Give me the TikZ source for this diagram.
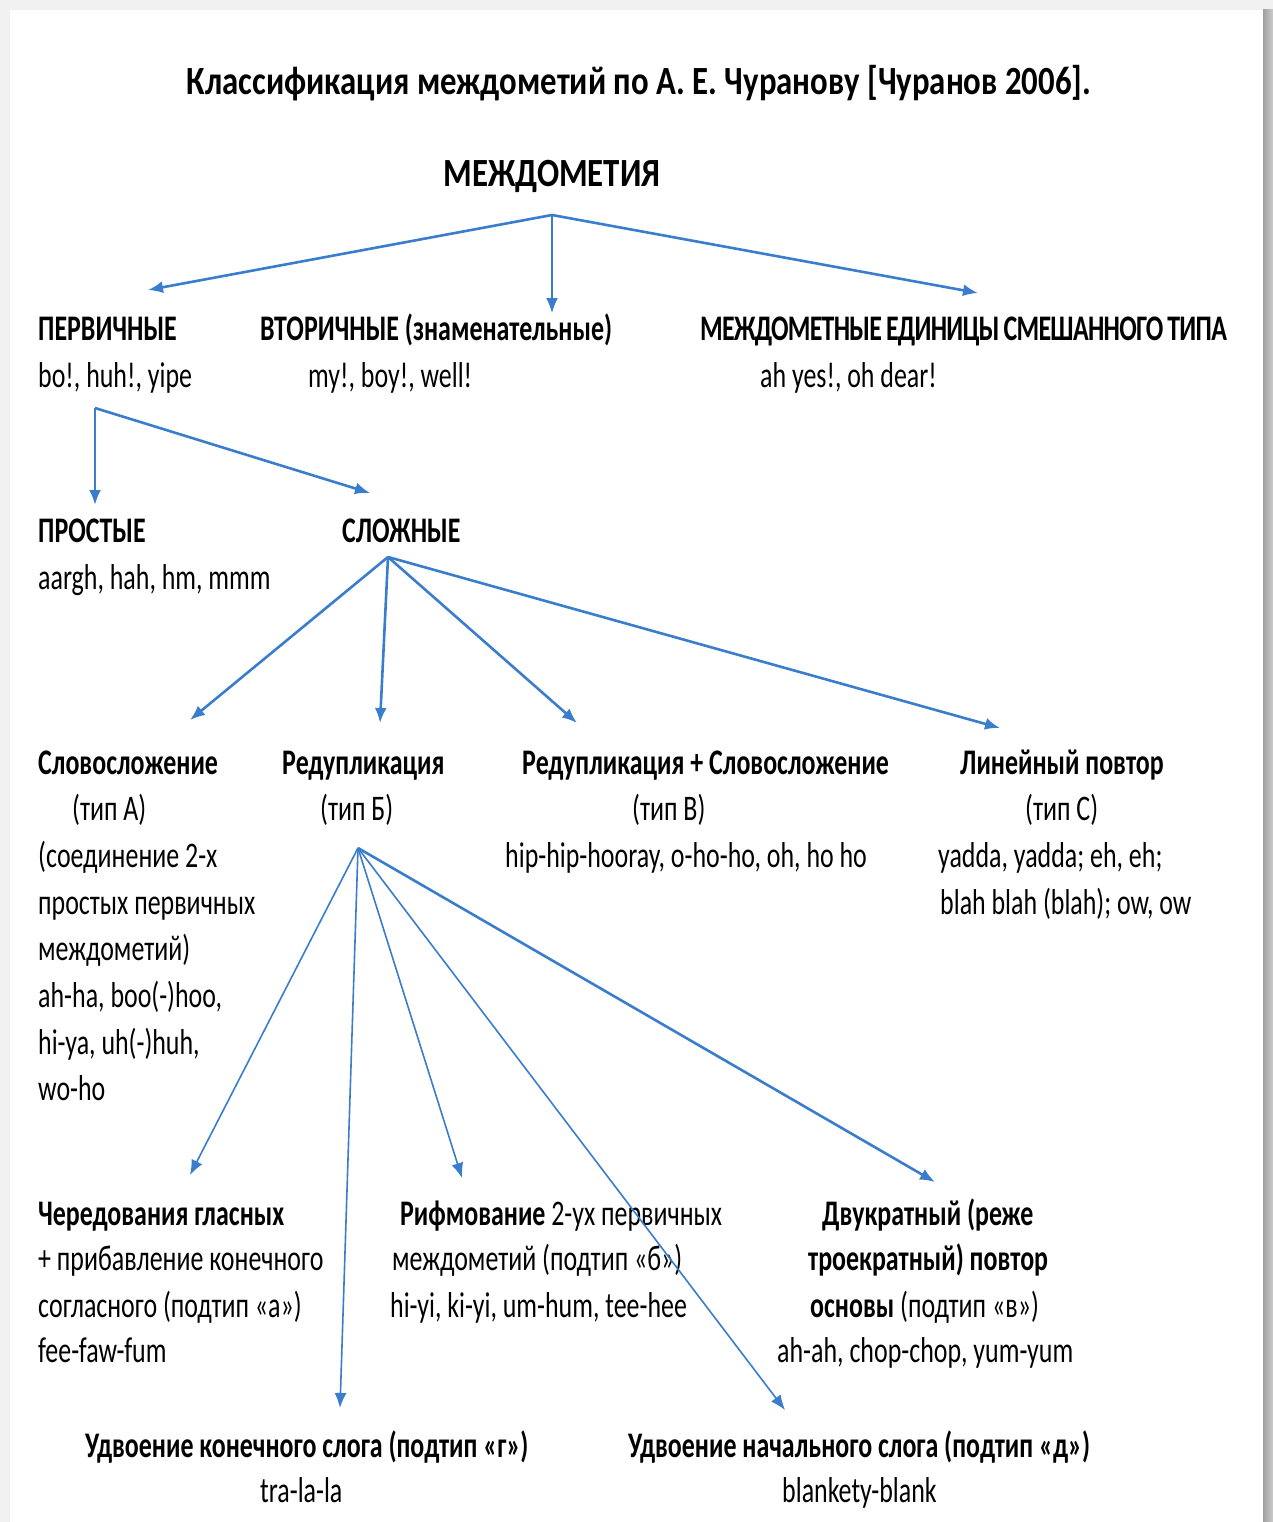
\documentclass[tikz,border=0pt]{standalone}
\usepackage{fontspec}
\setmainfont[FakeStretch=0.72]{Carlito}
\newfontfamily\widefont[FakeStretch=0.82]{Carlito}
\usetikzlibrary{calc,arrows.meta,positioning}

\definecolor{arrowblue}{RGB}{58,125,205}

\newcommand{\txtfont}{\fontsize{36}{46.6}\selectfont}
\newcommand{\bigfont}{\widefont\fontsize{40}{48}\selectfont\bfseries}

\tikzset{
  txt/.style={inner sep=0pt, anchor=base west, font=\txtfont},
  hdr/.style={txt, font=\txtfont\bfseries},
  arr/.style={draw=arrowblue, line width=2.6pt, -{Latex[length=15pt,width=12pt]}},
  thinarr/.style={arr, line width=1.6pt}
}

\begin{document}
\begin{tikzpicture}[x=1pt,y=-1pt]
        \useasboundingbox (0,0) rectangle (1273,1522);
        % page and shadow
        \fill[gray!12] (0,0) rectangle (1273,1522);
        \shade[left color=gray!75, right color=gray!40] (1263,10) rectangle (1273,1522);
        \fill[white] (10,10) rectangle (1263,1522);

        \node[txt, anchor=base, font=\bigfont] (title) at (639,95) {Классификация междометий по А. Е. Чуранову [Чуранов 2006].};
        \node[txt, anchor=base, font=\bigfont] (interj) at (552,187) {МЕЖДОМЕТИЯ};

        % first level
        \node[hdr] (prim) at (38,340) {ПЕРВИЧНЫЕ};
        \node[txt] (primEx) at (38,387) {bo!, huh!, yipe};
        \node[hdr] (sec) at (260,340) {ВТОРИЧНЫЕ (знаменательные)};
        \node[txt] (secEx) at (308,387) {my!, boy!, well!};
        \node[hdr] (mixed) at (700,340) {\addfontfeature{LetterSpace=-2}МЕЖДОМЕТНЫЕ\hspace{4pt}ЕДИНИЦЫ\hspace{4pt}СМЕШАННОГО\hspace{4pt}ТИПА};
        \node[txt] (mixedEx) at (760,387) {ah yes!, oh dear!};

        % primary
        \node[hdr] (simple) at (38,542) {ПРОСТЫЕ};
        \node[txt] (simpleEx) at (38,589) {aargh, hah, hm, mmm};
        \node[hdr] (compl) at (342,542) {СЛОЖНЫЕ};

        % types
        \node[hdr] (comp) at (38,774) {Словосложение};
        \node[txt] (compT) at (72,820) {(тип А)};
        \node[txt] (compD1) at (38,867) {(соединение 2-х};
        \node[txt] (compD2) at (38,914) {простых первичных};
        \node[txt] (compD3) at (38,960) {междометий)};
        \node[txt] (compE1) at (38,1007) {ah-ha, boo(-)hoo,};
        \node[txt] (compE2) at (38,1054) {hi-ya, uh(-)huh,};
        \node[txt] (compE3) at (38,1100) {wo-ho};
        \node[hdr] (redup) at (282,774) {Редупликация};
        \node[txt] (redupT) at (320,820) {(тип Б)};
        \node[hdr] (rc) at (522,774) {Редупликация + Словосложение};
        \node[txt] (rcT) at (632,820) {(тип В)};
        \node[txt] (rcEx) at (505,867) {hip-hip-hooray, o-ho-ho, oh, ho ho};
        \node[hdr] (lin) at (960,774) {Линейный повтор};
        \node[txt] (linT) at (1025,820) {(тип С)};
        \node[txt] (linE1) at (938,867) {yadda, yadda; eh, eh;};
        \node[txt] (linE2) at (940,914) {blah blah (blah); ow, ow};

        % subtypes
        \node[hdr] (alt) at (38,1225) {Чередования гласных};
        \node[txt] (altD1) at (38,1270) {+ прибавление конечного};
        \node[txt] (altD2) at (38,1317) {согласного (подтип «а»)};
        \node[txt] (altEx) at (38,1362) {fee-faw-fum};
        \node[txt] (rhyme) at (400,1225) {\textbf{Рифмование} 2-ух первичных};
        \node[txt] (rhymeD) at (392,1270) {междометий (подтип «б»)};
        \node[txt] (rhymeEx) at (390,1317) {hi-yi, ki-yi, um-hum, tee-hee};
        \node[hdr] (dbl) at (822,1225) {Двукратный (реже};
        \node[hdr] (dblD1) at (808,1270) {троекратный) повтор};
        \node[txt] (dblD2) at (810,1317) {\textbf{основы} (подтип «в»)};
        \node[txt] (dblEx) at (777,1362) {ah-ah, chop-chop, yum-yum};
        \node[hdr] (fin) at (85,1457) {Удвоение конечного слога (подтип «г»)};
        \node[txt] (finEx) at (260,1502) {tra-la-la};
        \node[hdr] (ini) at (628,1457) {Удвоение начального слога (подтип «д»)};
        \node[txt] (iniEx) at (782,1502) {blankety-blank};

        % fork points and arrow ends
        \coordinate (mFork) at (552,215);
        \coordinate (toPrim) at (148,290);
        \coordinate (toSec) at (552,313);
        \coordinate (toMixed) at (978,293);
        \coordinate (pFork) at (95,408);
        \coordinate (toSimple) at (95,505);
        \coordinate (toCompl) at (370,493);
        \coordinate (cFork) at (388,557);
        \coordinate (toComp) at (190,720);
        \coordinate (toRedup) at (380,723);
        \coordinate (toRc) at (577,723);
        \coordinate (toLin) at (1000,728);
        \coordinate (rFork) at (358,848);
        \coordinate (toAlt) at (190,1175);
        \coordinate (toFin) at (340,1408);
        \coordinate (toRhyme) at (462,1178);
        \coordinate (toIni) at (785,1410);
        \coordinate (toDbl) at (935,1182);

        \draw[arr] (mFork) -- (toPrim);
        \draw[thinarr] (mFork) -- (toSec);
        \draw[arr] (mFork) -- (toMixed);
        \draw[arr] (pFork) -- (toSimple);
        \draw[arr] (pFork) -- (toCompl);
        \draw[arr] (cFork) -- (toComp);
        \draw[arr] (cFork) -- (toRedup);
        \draw[arr] (cFork) -- (toRc);
        \draw[arr] (cFork) -- (toLin);
        \draw[thinarr] (rFork) -- (toAlt);
        \draw[thinarr] (rFork) -- (toFin);
        \draw[thinarr] (rFork) -- (toRhyme);
        \draw[thinarr] (rFork) -- (toIni);
        \draw[arr] (rFork) -- (toDbl);
\end{tikzpicture}
\end{document}
